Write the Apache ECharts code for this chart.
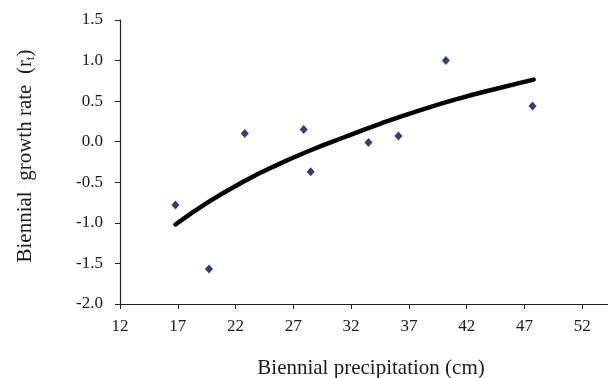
<!DOCTYPE html>
<html>
<head>
<meta charset="utf-8">
<script src="https://cdn.jsdelivr.net/npm/echarts@6/dist/echarts.min.js"></script>
<style>html,body{margin:0;padding:0;background:#fff}#c{width:608px;height:378px}</style>
</head>
<body>
<div id="c"></div>
<script>
// Observed points
var pointX = [16.8, 19.7, 22.8, 27.9, 28.5, 33.5, 36.1, 40.2, 47.7];
var pointY = [-0.78, -1.57, 0.10, 0.15, -0.37, -0.01, 0.07, 1.00, 0.44];
// Fitted trend curve
var trendX = [16.8, 19.8, 22.7, 25.6, 28.5, 31.4, 34.5, 38.0, 41.4, 44.5, 47.8];
var trendY = [-1.02, -0.73, -0.49, -0.285, -0.105, 0.055, 0.22, 0.39, 0.535, 0.65, 0.765];
// Axis ticks
var xTicks = [12, 17, 22, 27, 32, 37, 42, 47, 52];
var yTicks = [-2.0, -1.5, -1.0, -0.5, 0.0, 0.5, 1.0, 1.5];

var font = '"Liberation Serif", "Times New Roman", serif';
var txt = '#1a1a1a';
var chart = echarts.init(document.getElementById('c'), null, {renderer: 'canvas'});
var pts = pointX.map(function (x, i) { return [x, pointY[i]]; });
var trend = trendX.map(function (x, i) { return [x, trendY[i]]; });

chart.setOption({
  animation: false,
  backgroundColor: '#ffffff',
  grid: {left: 120, right: -32, top: 20, bottom: 74, containLabel: false, outerBoundsMode: 'none'},
  xAxis: {
    type: 'value',
    min: 12, max: 57, interval: 5,
    name: 'Biennial precipitation (cm)',
    nameLocation: 'middle', nameGap: 54,
    nameTextStyle: {fontFamily: font, fontSize: 21, color: txt, padding: [0, 18, 0, 0]},
    axisLine: {show: true, onZero: false, lineStyle: {color: '#222', width: 1.2}},
    axisTick: {show: true, inside: false, length: 5, lineStyle: {color: '#222'}},
    splitLine: {show: false},
    axisLabel: {
      fontFamily: font, fontSize: 17, color: txt, margin: 14,
      formatter: function (v) {
        for (var i = 0; i < xTicks.length; i++) { if (Math.abs(v - xTicks[i]) < 1e-6) return String(xTicks[i]); }
        return '';
      }
    }
  },
  yAxis: {
    type: 'value',
    min: -2.0, max: 1.5, interval: 0.5,
    name: '{a|Biennial  growth rate  (r}{s|t}{a|)}',
    nameLocation: 'middle', nameGap: 83, nameRotate: 90,
    nameTextStyle: {
      padding: [0, 0, 0, 12],
      rich: {
        a: {fontFamily: font, fontSize: 21, color: txt},
        s: {fontFamily: font, fontSize: 13, color: txt, verticalAlign: 'bottom', padding: [10, 0, 0, 0]}
      }
    },
    axisLine: {show: true, onZero: false, lineStyle: {color: '#222', width: 1.2}},
    axisTick: {show: true, inside: false, length: 5, lineStyle: {color: '#222'}},
    splitLine: {show: false},
    axisLabel: {
      fontFamily: font, fontSize: 17, color: txt, margin: 17,
      formatter: function (v) {
        for (var i = 0; i < yTicks.length; i++) { if (Math.abs(v - yTicks[i]) < 1e-6) return yTicks[i].toFixed(1); }
        return '';
      }
    }
  },
  series: [
    {
      type: 'line', data: trend, smooth: 0.5, symbol: 'none',
      lineStyle: {color: '#000', width: 4.5, cap: 'round'}, z: 2
    },
    {
      type: 'scatter', data: pts, symbol: 'diamond', symbolSize: [8, 9],
      itemStyle: {color: '#0a0a50'}, z: 3
    }
  ]
});
</script>
</body>
</html>
